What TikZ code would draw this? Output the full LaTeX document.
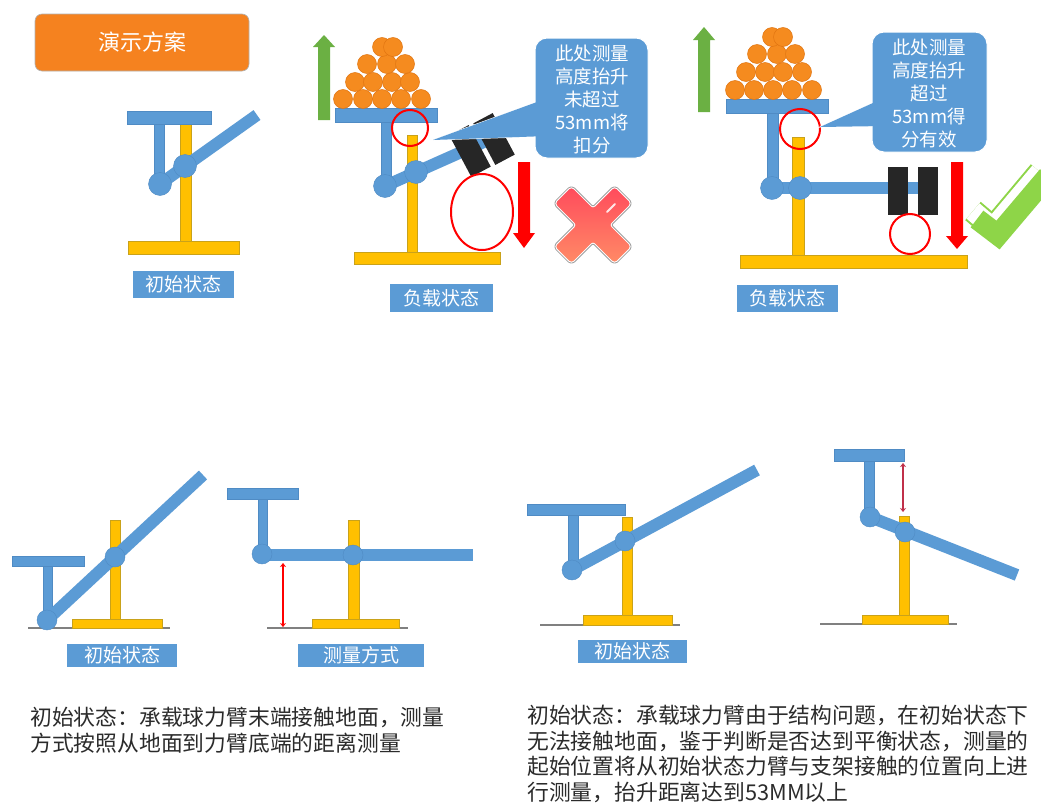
\documentclass[tikz,border=0pt]{standalone}
\usepackage{fontspec}
\newfontfamily\cjk{Noto Sans CJK SC}
\usetikzlibrary{arrows.meta}
\definecolor{armblue}{HTML}{5B9BD5}
\definecolor{armline}{HTML}{4F8BC4}
\definecolor{standyellow}{HTML}{FFC000}
\definecolor{postline}{HTML}{C9A21A}
\definecolor{ballorange}{HTML}{F58B1F}
\definecolor{balledge}{HTML}{E07410}
\definecolor{titleorange}{HTML}{F5821F}
\definecolor{upgreen}{HTML}{6BB043}
\definecolor{okgreen}{HTML}{8ED548}
\definecolor{alertred}{HTML}{FF0000}
\definecolor{crossred}{HTML}{FF4B5C}
\definecolor{crossorange}{HTML}{FF8A66}
\definecolor{blockdark}{HTML}{262626}
\definecolor{textgray}{HTML}{2B2B2B}
\definecolor{groundgray}{HTML}{808080}
\definecolor{crimson}{HTML}{C0304A}

\tikzset{
  bar/.style={fill=armblue, draw=armline, line width=0.4pt},
  post/.style={fill=standyellow, draw=postline, line width=0.4pt},
  joint/.style={circle, fill=armblue, draw=armline, line width=0.4pt, inner sep=0pt, minimum size=#1},
  joint/.default=23pt,
  arm/.style={draw=armblue, line width=12pt},
  ball/.style={circle, fill=ballorange, draw=balledge, line width=0.5pt, inner sep=0pt, minimum size=19pt},
  block/.style={fill=blockdark, inner sep=0pt, minimum width=22pt, minimum height=47pt},
  ring/.style={draw=alertred, line width=2pt},
  ground/.style={draw=groundgray, line width=2pt},
  tagbox/.style={fill=armblue, text=white, inner sep=0pt, font=\cjk\fontsize{19}{19}\selectfont},
  calloutbox/.style={fill=armblue, draw=white, line width=1pt, rounded corners=12pt},
  callouttext/.style={text=white, align=center, inner sep=0pt, font=\cjk\fontsize{18.5}{23}\selectfont},
  bodytext/.style={text=textgray, align=left, anchor=north west, inner sep=0pt, font=\cjk\fontsize{21.8}{25.6}\selectfont},
  measure/.style={line width=2.5pt, {Stealth[length=4pt,width=6pt]}-{Stealth[length=4pt,width=6pt]}}
}

\begin{document}
\begin{tikzpicture}[x=1pt,y=-1pt]
\path[use as bounding box] (0,0) rectangle (1041,803);
\clip (0,0) rectangle (1041,803);
\fill[white] (0,0) rectangle (1041,803);

% ---------- title ----------
\node[fill=titleorange, draw=gray!60, line width=0.6pt, rounded corners=7pt,
      minimum width=214pt, minimum height=57pt, inner sep=0pt, text=white,
      font=\cjk\fontsize{22}{22}\selectfont] (title) at (142,42.5) {演示方案};

% ---------- panel 1: initial state ----------
\fill[post] (180,124) rectangle (191,241);
\fill[post] (128,241) rectangle (239,254);
\filldraw[bar] (127,111) rectangle (211,124);
\filldraw[bar] (154,124) rectangle (164,184);
\coordinate (a1end) at (257,115);
\draw[arm] (160,184) -- (a1end);
\node[joint] (j1a) at (160,184) {};
\node[joint] (j1b) at (185,166) {};
\node[tagbox, minimum width=101pt, minimum height=27pt] (t1) at (183.5,284.5) {初始状态};

% ---------- panel 2: loaded, not enough lift ----------
\fill[upgreen] (318,120) -- (330,120) -- (330,47) -- (335,47) -- (324,35) -- (313,47) -- (318,47) -- cycle;
\filldraw[bar] (335,108) rectangle (437,122);
\foreach \x in {343,363,382,401,421} \node[ball] at (\x,99) {};
\foreach \x in {355,373,392,410} \node[ball] at (\x,82) {};
\foreach \x in {367,387,405} \node[ball] at (\x,64) {};
\foreach \x in {382,393} \node[ball] at (\x,47) {};
\filldraw[bar] (381,122) rectangle (391,186);
\fill[post] (407,135) rectangle (417,252);
\fill[post] (354,252) rectangle (500,264);
\coordinate (a2end) at (495,137);
\draw[arm] (385,186) -- (a2end);
\node[joint] (j2a) at (385,186) {};
\node[joint] (j2b) at (416,172) {};
\node[block, rotate=28] (b2a) at (470,151) {};
\node[block, rotate=28] (b2b) at (494,139) {};
\draw[ring] (410,128) circle (18);
\draw[ring] (482,212) ellipse (31 and 38);
\fill[alertred] (518,162) -- (530,162) -- (530,233) -- (535,233) -- (524,248) -- (513,233) -- (518,233) -- cycle;
% speech bubble
\filldraw[fill=armblue, draw=white, line width=1pt] (433,140) -- (548,98) -- (548,136) -- cycle;
\filldraw[calloutbox] (535,38) rectangle (648,158);
\fill[armblue] (433,140) -- (548,98) -- (548,136) -- cycle;
\node[callouttext] (c2) at (592,99) {此处测量\\高度抬升\\未超过\\53mm将\\扣分};
% cross mark
\begin{scope}[shift={(593,225)}]
  \def\crosspath{(21.57,-37.83) -- (37.83,-21.57) -- (16.26,0) -- (37.83,21.57) -- (21.57,37.83) -- (0,16.26) -- (-21.57,37.83) -- (-37.83,21.57) -- (-16.26,0) -- (-37.83,-21.57) -- (-21.57,-37.83) -- (0,-16.26) -- cycle}
  \draw[line width=4pt, gray!75, rounded corners=3pt, line join=round] \crosspath;
  \draw[line width=2pt, white, rounded corners=3pt, line join=round] \crosspath;
  \shade[top color=crossred, bottom color=crossorange, rounded corners=3pt] \crosspath;
  \draw[white, line width=1.8pt, line cap=round, opacity=0.85] (14,-13) -- (22,-21);
\end{scope}
\node[tagbox, minimum width=103pt, minimum height=28pt] (t2) at (441.5,298) {负载状态};

% ---------- panel 3: loaded, enough lift ----------
\fill[upgreen] (698,112) -- (710,112) -- (710,40) -- (715,40) -- (704,27) -- (693,40) -- (698,40) -- cycle;
\filldraw[bar] (726,99) rectangle (828,113);
\foreach \x in {735,754,773,792,812} \node[ball] at (\x,90) {};
\foreach \x in {746,765,783,802} \node[ball] at (\x,72) {};
\foreach \x in {757,777,795} \node[ball] at (\x,54) {};
\foreach \x in {772,783} \node[ball] at (\x,37) {};
\filldraw[bar] (767,113) rectangle (778,188);
\fill[post] (792,137) rectangle (804,255);
\fill[post] (740,255) rectangle (967,268);
\coordinate (a3end) at (925,188);
\draw[arm] (772,188) -- (a3end);
\node[joint] (j3a) at (772,188) {};
\node[joint] (j3b) at (800,188) {};
\fill[blockdark] (888,167) rectangle (908,215);
\fill[blockdark] (918,167) rectangle (938,215);
\draw[ring] (800,129) circle (20);
\draw[ring] (910,234) circle (20);
\fill[alertred] (951,162) -- (963,162) -- (963,236) -- (968,236) -- (957,249) -- (946,236) -- (951,236) -- cycle;
\filldraw[fill=armblue, draw=white, line width=1pt] (820,127) -- (884,98) -- (884,126) -- cycle;
\filldraw[calloutbox] (872,32) rectangle (987,152);
\fill[armblue] (820,127) -- (884,98) -- (884,126) -- cycle;
\node[callouttext] (c3) at (929,93) {此处测量\\高度抬升\\超过\\53mm得\\分有效};
% check mark
\draw[okgreen, line width=24pt, line join=miter] (973,211) -- (993,228) -- (1040,172);
\draw[white, line width=20pt, line join=miter] (973,211) -- (993,228) -- (1040,172);
\draw[okgreen, line width=21pt, line join=miter] (977,219) -- (998,235) -- (1048,176);
\node[tagbox, minimum width=101pt, minimum height=27pt] (t3) at (787.5,298.5) {负载状态};

% ---------- panel 4: arm end resting on the ground ----------
\draw[ground] (28,628) -- (170,628);
\fill[post] (72,619) rectangle (162,628);
\fill[post] (110,520) rectangle (120,619);
\filldraw[bar] (12,556) rectangle (84,566);
\filldraw[bar] (43,566) rectangle (52,620);
\coordinate (a4end) at (203,475);
\draw[arm] (47,620) -- (a4end);
\node[joint=20pt] (j4a) at (47,620) {};
\node[joint=20pt] (j4b) at (115,557) {};
\node[tagbox, minimum width=110pt, minimum height=23pt] (t4) at (122,655.5) {初始状态};

% ---------- panel 5: measuring from the ground ----------
\draw[ground] (267,628) -- (408,628);
\fill[post] (312,619) rectangle (399,628);
\fill[post] (348,520) rectangle (359,619);
\filldraw[bar] (227,488) rectangle (298,499);
\filldraw[bar] (258,499) rectangle (267,555);
\coordinate (a5end) at (473,555);
\draw[arm] (262,555) -- (a5end);
\node[joint=20pt] (j5a) at (262,554) {};
\node[joint=20pt] (j5b) at (353,555) {};
\coordinate (m5top) at (283,563);
\coordinate (m5bot) at (283,627);
\draw[measure, alertred] (m5top) -- (m5bot);
\node[tagbox, minimum width=126pt, minimum height=23pt] (t5) at (361,655.5) {测量方式};

% ---------- panel 6: arm held off the ground ----------
\draw[ground] (540,625) -- (680,625);
\fill[post] (583,615) rectangle (672,625);
\fill[post] (622,517) rectangle (632,615);
\filldraw[bar] (527,504) rectangle (625,515);
\filldraw[bar] (568,515) rectangle (578,570);
\coordinate (a6end) at (757,470);
\draw[arm] (572,570) -- (a6end);
\node[joint=20pt] (j6a) at (572,570) {};
\node[joint=20pt] (j6b) at (625,541) {};
\node[tagbox, minimum width=109pt, minimum height=23pt] (t6) at (632.5,651.5) {初始状态};

% ---------- panel 7: lift measured from the support ----------
\draw[ground] (820,624) -- (957,624);
\fill[post] (862,615) rectangle (948,624);
\fill[post] (899,516) rectangle (909,615);
\filldraw[bar] (834,449) rectangle (904,461);
\filldraw[bar] (864,461) rectangle (874,517);
\coordinate (a7end) at (1017,575);
\draw[arm] (870,517) -- (a7end);
\node[joint=20pt] (j7a) at (870,517) {};
\node[joint=20pt] (j7b) at (905,532) {};
\coordinate (m7top) at (903,463);
\coordinate (m7bot) at (903,512);
\draw[measure, crimson, line width=2pt] (m7top) -- (m7bot);

% ---------- notes ----------
\node[bodytext] (n1) at (30,707) {初始状态：承载球力臂末端接触地面，测量\\方式按照从地面到力臂底端的距离测量};
\node[bodytext] (n2) at (527,705) {初始状态：承载球力臂由于结构问题，在初始状态下\\无法接触地面，鉴于判断是否达到平衡状态，测量的\\起始位置将从初始状态力臂与支架接触的位置向上进\\行测量，抬升距离达到53MM以上};
\end{tikzpicture}
\end{document}
